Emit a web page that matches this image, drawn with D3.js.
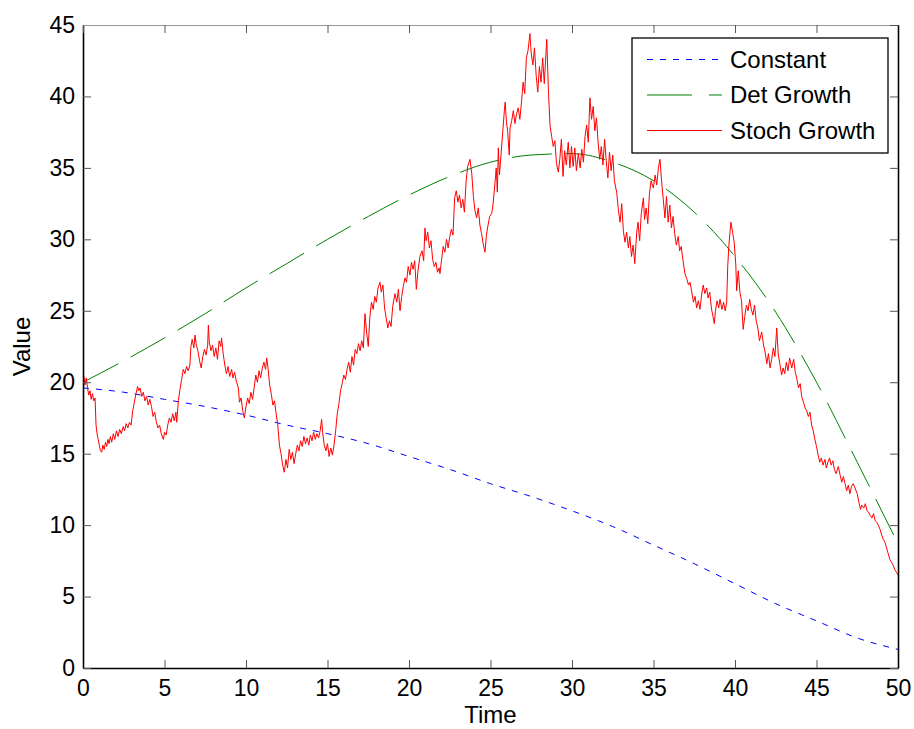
<!DOCTYPE html>
<html>
<head>
<meta charset="utf-8">
<script src="https://cdn.jsdelivr.net/npm/d3@7"></script>
<style>
  body { margin: 0; background: #fff; }
  svg text { font-family: "Liberation Sans", Arial, Helvetica, sans-serif; }
</style>
</head>
<body>
<svg id="chart"></svg>
<script>
// data
var xTicks = [0, 5, 10, 15, 20, 25, 30, 35, 40, 45, 50];
var yTicks = [0, 5, 10, 15, 20, 25, 30, 35, 40, 45];

var seriesNames = ["Constant", "Det Growth", "Stoch Growth"];

var smoothTime = [0, 2.5, 5, 7.5, 10, 12.5, 15, 17.5, 20, 22.5, 25, 27.5, 30, 32.5, 35, 37.5, 40, 42.5, 45, 47.5, 50];
var constantValue = [19.6, 19.3, 18.8, 18.3, 17.7, 17.0, 16.4, 15.7, 14.8, 13.9, 12.9, 12.0, 11.0, 9.9, 8.6, 7.3, 5.9, 4.5, 3.3, 2.1, 1.3];
var detGrowthValue = [20.0, 21.5, 23.1, 24.8, 26.6, 28.3, 30.0, 31.6, 33.1, 34.4, 35.4, 35.9, 36.0, 35.4, 34.1, 31.9, 28.8, 24.9, 20.0, 14.4, 8.7];

// [time, value]
var stochGrowth = [
  [0.00, 20.0], [0.05, 20.4], [0.12, 19.8], [0.2, 20.3], [0.28, 19.6], [0.35, 19.1], [0.43, 19.4], [0.5, 18.8],
  [0.58, 19.2], [0.66, 18.7], [0.74, 18.9], [0.8, 17.0], [0.86, 16.4], [0.93, 16.0], [1.0, 15.6], [1.07, 15.2],
  [1.15, 15.1], [1.22, 15.6], [1.3, 15.3], [1.38, 15.8], [1.45, 15.5], [1.53, 16.0], [1.6, 15.7], [1.68, 16.2],
  [1.76, 15.8], [1.86, 16.4], [1.95, 16.0], [2.05, 16.6], [2.15, 16.2], [2.25, 16.7], [2.35, 16.4], [2.47, 16.9],
  [2.55, 16.6], [2.65, 17.1], [2.75, 16.8], [2.85, 17.2], [2.95, 17.0], [3.05, 18.0], [3.15, 18.6], [3.25, 19.2],
  [3.35, 19.7], [3.42, 19.4], [3.5, 19.6], [3.6, 19.0], [3.7, 19.3], [3.8, 18.7], [3.9, 19.0], [4.0, 18.4],
  [4.1, 18.8], [4.2, 18.3], [4.3, 17.6], [4.4, 17.9], [4.5, 17.2], [4.6, 16.8], [4.7, 17.0], [4.8, 16.4],
  [4.93, 16.0], [5.0, 16.5], [5.1, 16.3], [5.2, 17.0], [5.3, 17.5], [5.4, 17.2], [5.5, 17.8], [5.6, 17.3],
  [5.7, 17.9], [5.75, 17.2], [5.85, 18.7], [5.95, 19.5], [6.05, 20.2], [6.15, 20.9], [6.25, 20.6], [6.35, 21.1],
  [6.45, 20.8], [6.56, 21.2], [6.62, 22.5], [6.7, 23.0], [6.8, 22.4], [6.87, 23.3], [6.95, 22.6], [7.05, 22.2],
  [7.15, 21.5], [7.25, 21.0], [7.35, 21.8], [7.45, 22.3], [7.55, 21.9], [7.65, 22.6], [7.69, 24.0], [7.75, 22.8],
  [7.85, 22.2], [7.95, 22.6], [8.05, 21.8], [8.15, 22.4], [8.25, 21.6], [8.35, 22.9], [8.45, 22.5], [8.5, 23.1],
  [8.6, 22.0], [8.7, 21.2], [8.8, 20.6], [8.9, 21.1], [9.0, 20.4], [9.12, 20.9], [9.2, 20.3], [9.3, 20.7],
  [9.4, 20.1], [9.53, 19.6], [9.6, 18.6], [9.7, 18.9], [9.8, 18.0], [9.9, 17.5], [10.0, 18.3], [10.1, 18.9],
  [10.2, 18.5], [10.3, 19.3], [10.4, 18.8], [10.5, 19.6], [10.6, 20.5], [10.7, 20.0], [10.8, 20.8], [10.9, 20.3],
  [11.0, 21.0], [11.1, 21.4], [11.2, 20.9], [11.27, 21.7], [11.35, 21.0], [11.45, 19.8], [11.55, 19.2], [11.65, 18.4],
  [11.75, 18.7], [11.85, 17.8], [11.95, 17.0], [12.05, 15.6], [12.15, 15.0], [12.25, 14.2], [12.35, 13.7], [12.45, 14.6],
  [12.55, 14.0], [12.65, 15.3], [12.75, 14.6], [12.85, 15.1], [12.95, 14.3], [13.05, 15.0], [13.15, 15.6], [13.25, 15.2],
  [13.35, 15.9], [13.45, 15.5], [13.55, 16.2], [13.65, 15.7], [13.75, 16.1], [13.85, 15.6], [13.95, 16.3], [14.05, 15.9],
  [14.15, 16.5], [14.25, 16.0], [14.35, 16.4], [14.45, 16.1], [14.55, 16.6], [14.64, 17.4], [14.7, 16.5], [14.8, 15.6],
  [14.9, 15.2], [15.0, 15.7], [15.1, 14.8], [15.2, 15.4], [15.3, 14.9], [15.4, 15.6], [15.5, 16.6], [15.6, 17.8],
  [15.7, 18.5], [15.8, 19.4], [15.9, 19.9], [16.0, 20.5], [16.1, 20.2], [16.2, 20.9], [16.3, 21.4], [16.4, 20.7],
  [16.5, 21.8], [16.6, 21.2], [16.7, 22.3], [16.8, 22.0], [16.9, 22.7], [17.0, 22.2], [17.1, 22.9], [17.2, 22.4],
  [17.3, 24.8], [17.4, 23.5], [17.5, 22.5], [17.6, 24.6], [17.7, 25.6], [17.8, 25.1], [17.9, 26.0], [18.0, 25.6],
  [18.1, 26.6], [18.22, 27.0], [18.3, 26.3], [18.4, 26.8], [18.5, 25.2], [18.6, 24.5], [18.7, 23.8], [18.8, 24.3],
  [18.9, 23.9], [19.0, 25.3], [19.14, 26.2], [19.25, 25.6], [19.35, 26.5], [19.45, 25.0], [19.55, 26.0], [19.65, 26.7],
  [19.75, 27.3], [19.85, 27.0], [19.95, 28.1], [20.06, 27.5], [20.15, 28.4], [20.25, 27.9], [20.35, 28.5], [20.45, 26.5],
  [20.55, 27.8], [20.67, 28.8], [20.8, 29.2], [20.9, 28.5], [20.98, 30.8], [21.05, 29.9], [21.15, 30.5], [21.25, 29.4],
  [21.35, 29.9], [21.45, 28.6], [21.55, 28.1], [21.65, 28.4], [21.75, 27.7], [21.85, 28.0], [21.9, 27.6], [22.0, 28.6],
  [22.1, 29.5], [22.2, 29.1], [22.3, 30.0], [22.4, 29.4], [22.5, 30.2], [22.6, 30.7], [22.7, 30.3], [22.8, 32.9],
  [22.9, 33.4], [23.0, 32.6], [23.1, 33.1], [23.2, 32.2], [23.3, 32.8], [23.4, 31.9], [23.5, 34.0], [23.6, 35.1],
  [23.74, 35.6], [23.85, 34.6], [23.95, 33.0], [24.05, 32.0], [24.15, 31.5], [24.25, 32.2], [24.35, 31.0], [24.45, 30.4],
  [24.55, 29.7], [24.66, 29.1], [24.75, 30.3], [24.85, 31.0], [24.95, 31.6], [25.07, 31.8], [25.15, 32.4], [25.25, 33.6],
  [25.35, 35.0], [25.42, 33.3], [25.48, 36.4], [25.55, 34.5], [25.65, 36.0], [25.75, 37.5], [25.85, 39.0], [25.9, 39.6],
  [25.98, 38.2], [26.05, 37.6], [26.15, 35.9], [26.2, 37.8], [26.3, 38.3], [26.4, 39.0], [26.5, 38.1], [26.6, 38.8],
  [26.7, 39.2], [26.8, 38.4], [26.9, 39.6], [27.0, 41.0], [27.1, 40.2], [27.2, 42.7], [27.3, 43.2], [27.42, 44.4],
  [27.5, 43.0], [27.6, 42.2], [27.7, 43.4], [27.8, 41.5], [27.9, 40.3], [28.0, 42.1], [28.1, 41.0], [28.2, 42.7],
  [28.3, 40.9], [28.45, 44.0], [28.55, 40.5], [28.65, 38.0], [28.75, 37.2], [28.85, 36.5], [28.95, 36.9], [29.05, 35.3],
  [29.16, 34.7], [29.25, 35.6], [29.35, 37.0], [29.45, 34.4], [29.55, 36.2], [29.65, 35.2], [29.77, 36.8], [29.87, 35.0],
  [29.97, 36.5], [30.07, 35.1], [30.17, 36.4], [30.27, 34.8], [30.39, 36.0], [30.5, 35.0], [30.6, 36.3], [30.7, 35.4],
  [30.8, 37.2], [30.9, 38.0], [31.0, 36.8], [31.1, 39.9], [31.2, 38.4], [31.3, 39.3], [31.4, 37.6], [31.5, 38.5],
  [31.6, 36.8], [31.7, 35.6], [31.8, 36.5], [31.9, 35.2], [32.0, 37.0], [32.1, 35.5], [32.2, 34.3], [32.3, 36.1],
  [32.4, 34.8], [32.5, 35.9], [32.6, 34.1], [32.74, 33.3], [32.85, 32.0], [32.95, 31.2], [33.05, 32.5], [33.15, 30.6],
  [33.25, 29.8], [33.35, 30.5], [33.46, 29.4], [33.55, 30.2], [33.65, 28.8], [33.75, 29.6], [33.85, 28.3], [33.97, 30.5],
  [34.05, 31.2], [34.15, 29.9], [34.25, 31.8], [34.38, 32.9], [34.45, 31.4], [34.55, 32.2], [34.65, 31.1], [34.75, 33.2],
  [34.85, 34.1], [34.99, 33.6], [35.1, 34.5], [35.2, 33.8], [35.3, 35.0], [35.4, 35.6], [35.5, 34.0], [35.6, 32.8],
  [35.7, 31.5], [35.8, 33.0], [35.9, 31.2], [36.0, 32.4], [36.1, 30.8], [36.2, 31.6], [36.3, 30.4], [36.4, 29.6],
  [36.52, 30.2], [36.6, 29.2], [36.7, 29.5], [36.8, 28.6], [36.93, 27.6], [37.05, 27.2], [37.15, 26.8], [37.24, 27.0],
  [37.35, 26.3], [37.45, 25.6], [37.55, 26.0], [37.65, 25.2], [37.75, 25.7], [37.85, 25.1], [37.95, 26.1], [38.05, 26.8],
  [38.15, 26.2], [38.26, 26.6], [38.35, 25.9], [38.45, 26.3], [38.55, 25.2], [38.65, 24.6], [38.73, 24.1], [38.8, 25.0],
  [38.9, 25.7], [39.0, 25.2], [39.08, 25.8], [39.2, 25.1], [39.3, 25.6], [39.4, 25.0], [39.49, 25.6], [39.55, 28.0],
  [39.62, 29.5], [39.7, 30.6], [39.75, 31.2], [39.85, 30.5], [39.95, 29.8], [40.05, 28.2], [40.1, 26.4], [40.2, 27.8],
  [40.3, 26.3], [40.4, 25.7], [40.5, 23.7], [40.6, 24.6], [40.7, 25.4], [40.8, 25.0], [40.9, 25.8], [41.0, 25.1],
  [41.1, 24.7], [41.2, 25.4], [41.3, 24.3], [41.4, 23.8], [41.5, 22.9], [41.64, 23.5], [41.75, 22.6], [41.85, 22.1],
  [41.95, 21.3], [42.05, 22.0], [42.15, 21.0], [42.25, 21.6], [42.35, 22.4], [42.45, 21.8], [42.56, 23.8], [42.65, 22.0],
  [42.75, 21.3], [42.86, 20.5], [42.95, 21.0], [43.05, 20.6], [43.15, 21.4], [43.25, 20.8], [43.35, 21.7], [43.48, 21.0],
  [43.6, 21.6], [43.7, 20.7], [43.8, 20.2], [43.9, 19.6], [44.0, 19.9], [44.09, 19.0], [44.2, 18.6], [44.3, 18.2],
  [44.4, 18.0], [44.5, 17.6], [44.6, 17.9], [44.7, 17.0], [44.8, 16.6], [44.9, 16.0], [45.0, 15.5], [45.1, 14.9],
  [45.2, 14.4], [45.3, 14.7], [45.4, 14.2], [45.52, 14.6], [45.6, 14.0], [45.7, 14.4], [45.8, 14.7], [45.9, 14.2],
  [46.0, 14.5], [46.1, 13.9], [46.2, 13.6], [46.34, 14.1], [46.45, 13.5], [46.55, 13.0], [46.65, 13.4], [46.75, 12.9],
  [46.85, 12.4], [46.95, 12.8], [47.05, 12.2], [47.15, 12.7], [47.25, 12.9], [47.36, 12.6], [47.5, 12.2], [47.6, 11.6],
  [47.7, 11.1], [47.77, 11.4], [47.9, 11.2], [48.0, 11.5], [48.1, 11.0], [48.2, 10.9], [48.28, 10.7], [48.4, 10.5],
  [48.5, 10.8], [48.6, 10.3], [48.7, 10.2], [48.79, 10.0], [48.9, 9.7], [49.0, 9.3], [49.1, 9.0], [49.2, 8.8],
  [49.3, 8.4], [49.4, 8.0], [49.5, 7.6], [49.6, 7.4], [49.7, 7.2], [49.8, 6.9], [49.9, 6.7], [50.0, 6.5]
];

//total size and plot box in px
var width = 914;
var height = 729;
var plotLeft = 83, plotTop = 25, plotRight = 898, plotBottom = 668;

var svg = d3.select("#chart")
            .attr("width", width)
            .attr("height", height);

var x = d3.scaleLinear().domain([0, 50]).range([plotLeft, plotRight]);
var y = d3.scaleLinear().domain([0, 45]).range([plotBottom, plotTop]);

svg.append("defs").append("clipPath")
  .attr("id", "plotClip")
  .append("rect")
  .attr("x", plotLeft)
  .attr("y", plotTop)
  .attr("width", plotRight - plotLeft)
  .attr("height", plotBottom - plotTop);

//lines
var lines = svg.append("g").attr("clip-path", "url(#plotClip)");

var smoothLine = d3.line()
  .x(function (d, i) { return x(smoothTime[i]); })
  .y(function (d) { return y(d); })
  .curve(d3.curveMonotoneX);

lines.append("path")
  .attr("d", smoothLine(constantValue))
  .attr("fill", "none")
  .attr("stroke", "#0000ff")
  .attr("stroke-width", 1)
  .attr("stroke-dasharray", "6,7");

lines.append("path")
  .attr("d", smoothLine(detGrowthValue))
  .attr("fill", "none")
  .attr("stroke", "#008000")
  .attr("stroke-width", 1)
  .attr("stroke-dasharray", "40,14");

var stochLine = d3.line()
  .x(function (d) { return x(d[0]); })
  .y(function (d) { return y(d[1]); });

lines.append("path")
  .attr("d", stochLine(stochGrowth))
  .attr("fill", "none")
  .attr("stroke", "#ff0000")
  .attr("stroke-width", 1);

//axes, ticks point inward
var tickFont = "23px";

var axisB = svg.append("g")
  .attr("transform", "translate(0," + plotBottom + ")")
  .call(d3.axisBottom(x).tickValues(xTicks).tickSizeInner(-8).tickSizeOuter(0).tickPadding(12));

var axisL = svg.append("g")
  .attr("transform", "translate(" + plotLeft + ",0)")
  .call(d3.axisLeft(y).tickValues(yTicks).tickSizeInner(-8).tickSizeOuter(0).tickPadding(8));

var axisT = svg.append("g")
  .attr("transform", "translate(0," + plotTop + ")")
  .call(d3.axisTop(x).tickValues(xTicks).tickSizeInner(-8).tickSizeOuter(0).tickFormat(""));

var axisR = svg.append("g")
  .attr("transform", "translate(" + plotRight + ",0)")
  .call(d3.axisRight(y).tickValues(yTicks).tickSizeInner(-8).tickSizeOuter(0).tickFormat(""));

[axisB, axisL, axisT, axisR].forEach(function (a) {
  a.select(".domain").attr("stroke", "#000").attr("stroke-width", 1.6);
  a.selectAll(".tick line").attr("stroke", "#555");
  a.selectAll(".tick text")
    .attr("fill", "#000")
    .attr("font-size", tickFont)
    .attr("font-family", "Liberation Sans, Arial, sans-serif");
});
axisT.select(".domain").attr("stroke", "#999").attr("stroke-width", 1);

//axis labels
svg.append("text")
  .text("Time")
  .attr("font-size", "24px")
  .attr("text-anchor", "middle")
  .attr("x", (plotLeft + plotRight) / 2)
  .attr("y", 723);

svg.append("text")
  .text("Value")
  .attr("font-size", "24px")
  .attr("text-anchor", "middle")
  .attr("transform", "translate(30," + ((plotTop + plotBottom) / 2) + ") rotate(-90)");

//legend
var legend = svg.append("g");

legend.append("rect")
  .attr("x", 632)
  .attr("y", 38)
  .attr("width", 256)
  .attr("height", 115)
  .attr("fill", "#fff")
  .attr("stroke", "#000")
  .attr("stroke-width", 1.3);

var legendStyles = [
  {color: "#0000ff", dash: "6,7"},
  {color: "#008000", dash: "45,17"},
  {color: "#ff0000", dash: null}
];

seriesNames.forEach(function (name, i) {
  var ly = 59.5 + i * 35.5;

  legend.append("line")
    .attr("x1", 647)
    .attr("x2", 722)
    .attr("y1", ly)
    .attr("y2", ly)
    .attr("stroke", legendStyles[i].color)
    .attr("stroke-width", 1)
    .attr("stroke-dasharray", legendStyles[i].dash);

  legend.append("text")
    .text(name)
    .attr("font-size", "24px")
    .attr("text-anchor", "start")
    .attr("dy", ".35em")
    .attr("x", 730)
    .attr("y", ly);
});
</script>
</body>
</html>
